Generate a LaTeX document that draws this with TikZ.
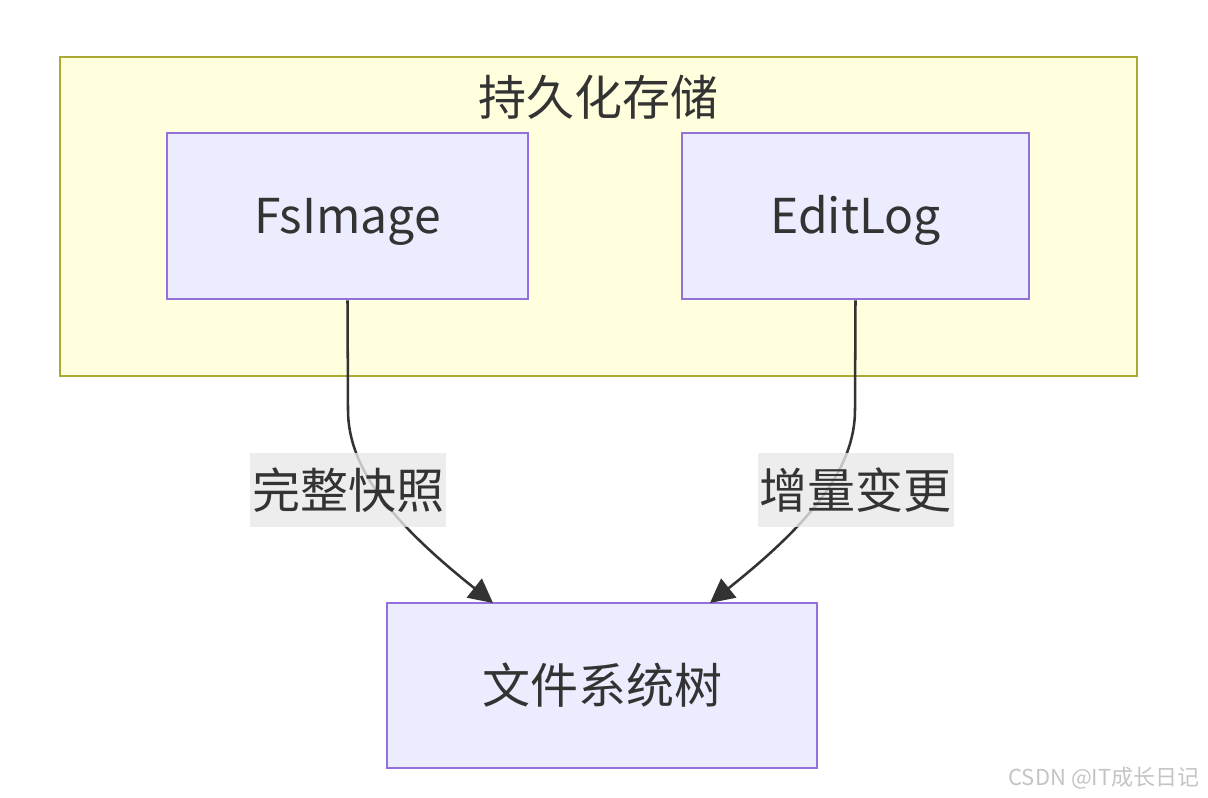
\documentclass[tikz,border=0pt]{standalone}
\usepackage{fontspec}
\setmainfont{Noto Sans CJK SC}
\usetikzlibrary{arrows.meta,calc}
\definecolor{clfill}{HTML}{FFFFDE}
\definecolor{clline}{HTML}{AAAA33}
\definecolor{ndfill}{HTML}{ECECFF}
\definecolor{ndline}{HTML}{9370DB}
\definecolor{txt}{HTML}{333333}
\definecolor{lblbg}{HTML}{E8E8E8}
\definecolor{wm}{HTML}{C4C4C4}
\tikzset{
  cluster/.style={draw=clline, fill=clfill, line width=2pt, inner sep=0pt},
  box/.style={draw=ndline, fill=ndfill, line width=1.9pt, inner sep=0pt, text=txt, font=\fontsize{36}{40}\selectfont},
  title/.style={text=txt, inner sep=0pt, font=\fontsize{36}{40}\selectfont},
  elabel/.style={fill=lblbg, fill opacity=0.8, text opacity=1, text=txt, inner sep=0pt,
     minimum width={196*0.75pt}, minimum height={74*0.75pt}, font=\fontsize{36}{40}\selectfont},
  link/.style={draw=txt, line width=1.9pt, -{Triangle[length=18pt,width=18pt]}},
  wmark/.style={text=wm, inner sep=0pt, font=\fontsize{16.5}{18}\selectfont}
}
\begin{document}
\begin{tikzpicture}[x=0.75pt,y=-0.75pt]
\useasboundingbox (0,0) rectangle (1208,798);
\node[cluster, minimum width={1077*0.75pt}, minimum height={319*0.75pt}] (grp) at (598.5,216.5) {};
\node[title] (grptitle) at (598,97) {持久化存储};
\node[box, minimum width={361*0.75pt}, minimum height={166*0.75pt}] (fs) at (347.5,216) {\raisebox{-4.5pt}[\height][\depth]{FsImage}};
\node[box, minimum width={347*0.75pt}, minimum height={166*0.75pt}] (el) at (855.5,216) {\raisebox{-3pt}[\height][\depth]{EditLog}};
\node[box, minimum width={430*0.75pt}, minimum height={165*0.75pt}] (tree) at (602,685.5) {文件系统树};
\coordinate (t1) at (493,603);
\coordinate (t2) at (710,603);
\draw[link] (fs.south) -- (348,410) .. controls (348,470) and (395,525) .. (t1);
\draw[link] (el.south) -- (855,410) .. controls (855,470) and (808,525) .. (t2);
\node[elabel] (l1) at (348,490) {完整快照};
\node[elabel] (l2) at (855.5,490) {增量变更};
\node[wmark] (wmk) at (1104,778) {CSDN @IT成长日记};
\end{tikzpicture}
\end{document}
